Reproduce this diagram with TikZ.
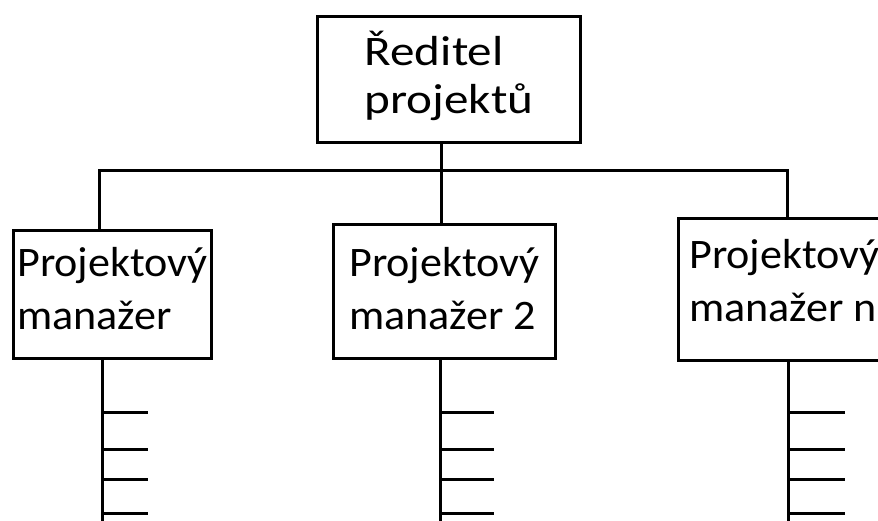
\documentclass[tikz,border=0pt]{standalone}
\usepackage{fontspec}
\setmainfont{Carlito}
\newfontfamily\topfont[FakeStretch=1.17]{Carlito}
\newfontfamily\pmfont[FakeStretch=1.05]{Carlito}
\begin{document}
\begin{tikzpicture}[x=1pt,y=-1pt,
  line width=3pt,
  box/.style={draw, line width=3pt, inner ysep=0pt, inner xsep=0pt, align=left, anchor=north west},
  pmbox/.style={box, font=\pmfont\fontsize{42}{53}\selectfont},
  topbox/.style={box, font=\topfont\fontsize{42}{48}\selectfont},
  link/.style={line width=3pt}
]
\useasboundingbox (0,0) rectangle (878,521);
\clip (0,0) rectangle (878,521);
\node[topbox, minimum width=263pt, minimum height=126pt, text height=97pt, text depth=29pt] (dir) at (316,15) {Ředitel\\projektů};
\node[pmbox, minimum width=198pt, minimum height=128pt, text height=99pt, text depth=29pt] (pm1) at (12,229) {Projektový\\manažer};
\node[pmbox, minimum width=222pt, minimum height=134pt, text height=105pt, text depth=29pt] (pm2) at (332,223) {Projektový\\manažer 2};
\node[pmbox, minimum width=212pt, minimum height=142pt, text height=103pt, text depth=39pt] (pmn) at (677,217) {Projektový\\manažer n};
\coordinate (hl) at (99,171);
\coordinate (hr) at (787,171);
\coordinate (hm) at (441,171);
\draw[link] (hl |- pm1.north) -- (hl) -- (hr) -- (hr |- pmn.north);
\draw[link] (hm |- dir.south) -- (hm |- pm2.north);
% sub-lines
\foreach \nm/\x/\e in {pm1/102/148, pm2/440/494, pmn/788/845} {
  \coordinate (\nm b) at (\x,530);
  \draw[link] (\x,0 |- \nm.south) -- (\nm b);
  \foreach \y in {412,449,479,513} {
    \draw[link] (\x,\y) -- (\e,\y);
  }
}
\end{tikzpicture}
\end{document}
